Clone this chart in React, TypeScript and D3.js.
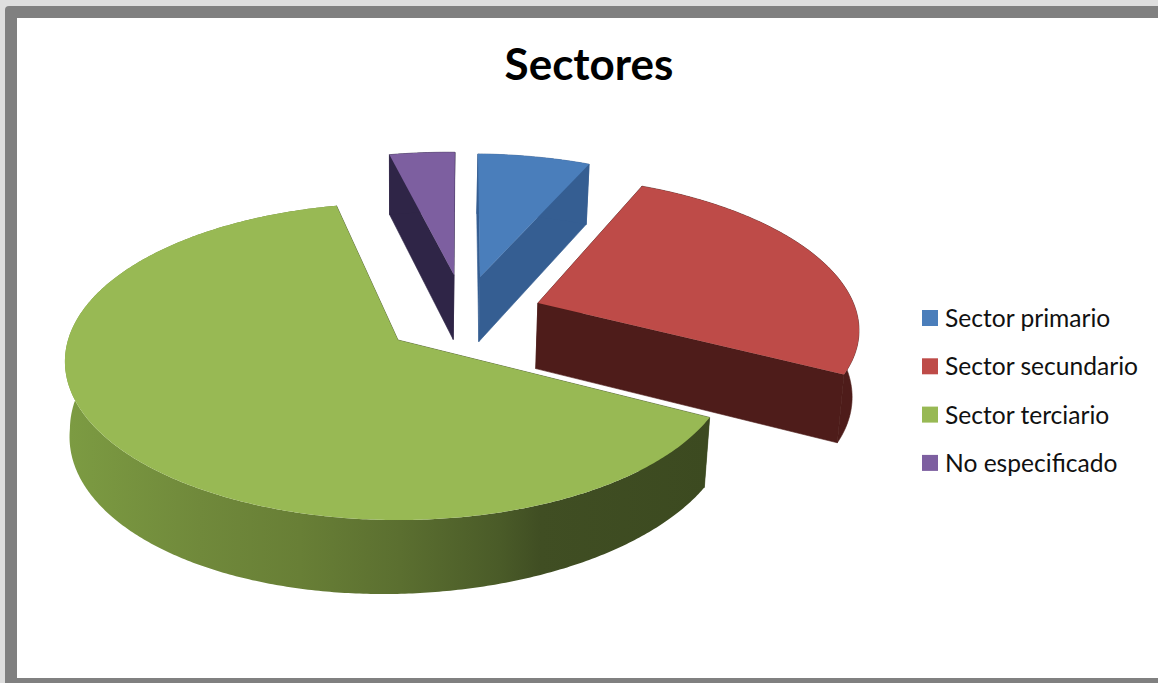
import React from "react";
import * as d3 from "d3";

const title = "Sectores";
const categories = ["Sector primario", "Sector secundario", "Sector terciario", "No especificado"];
const shares = [6.5, 25.8, 63.9, 3.8];
const topColors = ["#4a7ebb", "#be4b48", "#98b954", "#7d5fa0"];
const wallColors = ["#355e92", "#4e1c1a", "#3c4b20", "#2f2547"];
const explodeX = [0.263, 0.438, 0, 0.18];
const explodeY = [-0.428, -0.2457, 0, -0.443];
const radii = [1, 0.988, 1, 1];

const W = 1158;
const H = 683;
const CX = 398;
const CY = 340;
const PERSPECTIVE = 0.1357;
const planeX = d3.scaleLinear().domain([0, 1]).range([0, 330]);
const planeY = d3.scaleLinear().domain([0, 1]).range([0, 155.6]);
const depth = d3.scaleLinear().domain([158, 520]).range([60, 74]);
const drift = d3.scaleLinear().domain([361, 520]).range([0, 15]).clamp(true);
const shrink = 0.985;
const GREEN = 2;

type P = [number, number];
const project = (x: number, y: number): P => {
  const w = 1 - PERSPECTIVE * y;
  return [CX + planeX(x) / w, CY + planeY(y) / w];
};
const lower = ([x, y]: P): P => [CX + (x - CX) * shrink, y + depth(y)];
const lowerGreen = ([x, y]: P): P => [
  CX + (x - CX) * (x > CX ? 1 : shrink) - drift(y),
  y + depth(y),
];
const line = d3.line<P>();

const pieGen = d3
  .pie<number>()
  .sort(null)
  .startAngle((1.5 * Math.PI) / 180)
  .endAngle((361.5 * Math.PI) / 180);
const arcs = pieGen(shares);

const rim = (i: number, a0: number, a1: number): P[] => {
  const n = Math.max(2, Math.ceil(Math.abs(a1 - a0) / 0.01));
  return d3.range(n + 1).map((k) => {
    const a = a0 + ((a1 - a0) * k) / n;
    return project(explodeX[i] + radii[i] * Math.sin(a), explodeY[i] - radii[i] * Math.cos(a));
  });
};
const apex = (i: number): P => project(explodeX[i], explodeY[i]);
const band = (pts: P[], down: (p: P) => P = lower) =>
  line([...pts, ...pts.map(down).reverse()]) + "Z";

const drawOrder = [3, 0, 1, 2];
const gradientStops: [number, string][] = [
  [70, "#7c9b42"],
  [200, "#70893b"],
  [300, "#687f36"],
  [400, "#5b6f30"],
  [500, "#4a5b28"],
  [540, "#404e23"],
  [707, "#3c4a20"],
];

export default function App() {
  return (
    <svg
      width={W}
      height={H}
      viewBox={`0 0 ${W} ${H}`}
      style={{ position: "fixed", left: 0, top: 0, display: "block" }}
    >
      <defs>
        <linearGradient id="greenWall" gradientUnits="userSpaceOnUse" x1={70} x2={707} y1={0} y2={0}>
          {gradientStops.map(([o, c]) => (
            <stop key={o} offset={(o - 70) / (707 - 70)} stopColor={c} />
          ))}
        </linearGradient>
      </defs>
      <rect x={0} y={0} width={W} height={H} fill="#dedede" />
      <rect x={5} y={6} width={W} height={H} rx={4} fill="#808080" />
      <rect x={17} y={18} width={W} height={660} fill="#ffffff" />

      <text
        x={589}
        y={80}
        textAnchor="middle"
        fontFamily="Lato, 'Open Sans', sans-serif"
        fontWeight={700}
        fontSize={44}
        fill="#000"
      >
        {title}
      </text>

      {drawOrder.map((i) => {
        const { startAngle: a0, endAngle: a1 } = arcs[i];
        const outer = rim(i, a0, a1);
        const wallFill = i === GREEN ? "url(#greenWall)" : wallColors[i];
        const down = i === GREEN ? lowerGreen : lower;
        const c = apex(i);
        const top = line([c, ...outer]) + "Z";
        return (
          <g key={categories[i]}>
            <path d={band([outer[0], c], down)} fill={wallColors[i]} stroke={wallColors[i]} strokeWidth={0.6} />
            <path d={band([c, outer[outer.length - 1]], down)} fill={wallColors[i]} stroke={wallColors[i]} strokeWidth={0.6} />
            <path d={band(outer, down)} fill={wallFill} stroke={i === GREEN ? "none" : wallColors[i]} strokeWidth={0.6} />
            <path d={top} fill={topColors[i]} />
          </g>
        );
      })}

      {categories.map((name, i) => (
        <g key={name} transform={`translate(922,${310 + i * 48.3})`}>
          <rect width={16} height={16} fill={topColors[i]} />
          <text
            x={23}
            y={17}
            fontFamily="Lato, 'Open Sans', sans-serif"
            fontSize={24.6}
            fill="#111"
          >
            {name}
          </text>
        </g>
      ))}
    </svg>
  );
}
